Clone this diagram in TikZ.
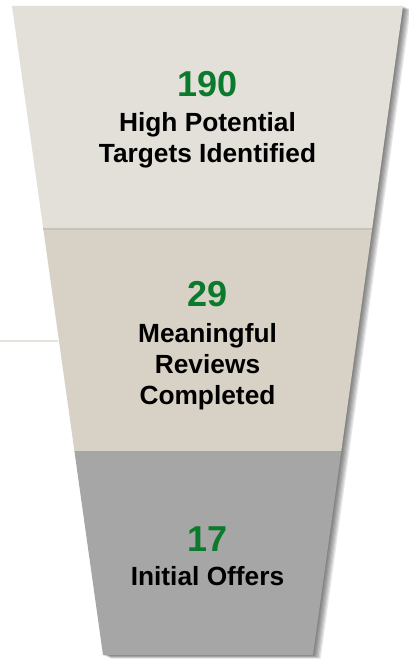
\documentclass[tikz,border=0pt]{standalone}
\usepackage{fontspec}
\setmainfont{Liberation Sans}
\usetikzlibrary{positioning,calc}
\definecolor{fnTop}{HTML}{E3E0D9}
\definecolor{fnMid}{HTML}{D8D2C6}
\definecolor{fnLow}{HTML}{A6A6A6}
\definecolor{fnSep}{HTML}{C8C3B8}
\definecolor{fnNum}{HTML}{0B7A2C}
\definecolor{fnRule}{HTML}{E4E5DA}
\tikzset{
  fn/.style={x=1pt, y=-1pt},
  num/.style={font=\fontsize{36}{36}\selectfont\bfseries, text=fnNum, anchor=base, inner sep=0pt},
  lbl/.style={font=\fontsize{26.3}{31}\selectfont\bfseries, text=black, anchor=base, align=center, inner sep=0pt},
  shade/.style={fill=black, fill opacity=.09},
  sep/.style={draw=fnSep, line width=1.2pt},
  rule/.style={draw=fnRule, line width=1.6pt},
}

\begin{document}
\begin{tikzpicture}[fn]
\useasboundingbox (0,0) rectangle (408,660);
% corners of the funnel, top to bottom
\coordinate (aL) at (12,6);    \coordinate (aR) at (403,6);
\coordinate (bL) at (43.3,229); \coordinate (bR) at (372.1,229);
\coordinate (cL) at (74.4,451); \coordinate (cR) at (341.3,451);
\coordinate (dL) at (103,655);  \coordinate (dR) at (313,655);
% soft shadow on the right
\foreach \d in {1,...,7}{
  \begin{scope}[transform canvas={shift={(\d*1.1,\d*.5)}}]
    \fill[shade] (aL) -- (aR) -- (bR) -- (bL) -- cycle;
    \fill[shade] (bL) -- (bR) -- (cR) -- (cL) -- cycle;
    \fill[shade] (cL) -- (cR) -- (dR) -- (dL) -- cycle;
  \end{scope}
}
% the three stages
\fill[fnTop] (aL) -- (aR) -- (bR) -- (bL) -- cycle;
\fill[fnMid] (bL) -- (bR) -- (cR) -- (cL) -- cycle;
\fill[fnLow] (cL) -- (cR) -- (dR) -- (dL) -- cycle;
\draw[sep] (bL) -- (bR);
% short rule on the left
\coordinate (r1) at (0,341);
\coordinate (r2) at (58,341);
\draw[rule] (r1) -- (r2);

% labels sit on the baseline of their last line
\node[num] (n190) at (207.5,97)  {190};
\node[lbl] (t190) at (207.5,163) {High Potential\\Targets Identified};
\node[num] (n29)  at (207.5,306) {29};
\node[lbl] (t29)  at (207.5,404) {Meaningful\\Reviews\\Completed};
\node[num] (n17)  at (207.5,551) {17};
\node[lbl] (t17)  at (207.5,585) {Initial Offers};
\end{tikzpicture}
\end{document}
